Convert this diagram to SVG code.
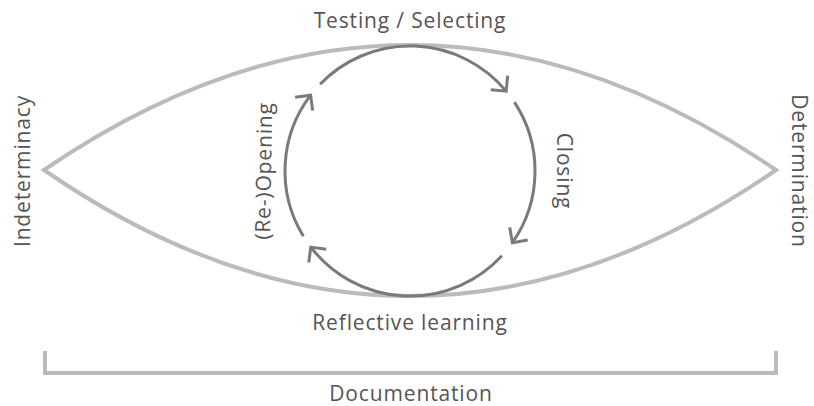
<svg xmlns="http://www.w3.org/2000/svg" width="814" height="406" viewBox="0 0 814 406">
<defs>
<style>
.lbl{font-family:"Open Sans","Noto Sans","Liberation Sans",sans-serif;font-size:21px;letter-spacing:0.85px;fill:#555555;}
.lens{fill:none;stroke:#bbbbbb;stroke-width:4;stroke-linejoin:miter;}
.cyc{fill:none;stroke:#7a7a7a;stroke-width:3;stroke-linecap:butt;}
</style>
<marker id="chev" markerUnits="userSpaceOnUse" markerWidth="30" markerHeight="30" viewBox="-15 -15 30 30" refX="0" refY="0" orient="auto">
<path d="M-11,-11 L0,0 L-11,11" fill="none" stroke="#7a7a7a" stroke-width="3" stroke-linejoin="miter"/>
</marker>
</defs>
<rect width="814" height="406" fill="#ffffff"/>
<g id="lens">
<path class="lens" d="M44,170 Q410,-80 776,170 Q410,422 44,170 Z"/>
</g>
<g id="documentation-bracket">
<path class="lens" d="M45,351 V373 H776 V351"/>
</g>
<g id="connectors">
<path class="cyc" marker-end="url(#chev)" d="M320.1,84.2 A125,125 0 0 1 506.2,91.2"/>
<path class="cyc" marker-end="url(#chev)" d="M514.4,102.2 A125,125 0 0 1 512.4,242.7"/>
<path class="cyc" marker-end="url(#chev)" d="M501.9,255.8 A125,125 0 0 1 310.8,247.1"/>
<path class="cyc" marker-end="url(#chev)" d="M303.4,236.3 A125,125 0 0 1 310.6,95.2"/>
</g>
<g id="testing-selecting"><text class="lbl" x="410" y="28" text-anchor="middle">Testing / Selecting</text></g>
<g id="reflective-learning"><text class="lbl" x="410" y="330" text-anchor="middle">Reflective learning</text></g>
<g id="documentation"><text class="lbl" x="411" y="401" text-anchor="middle">Documentation</text></g>
<g id="indeterminacy"><text class="lbl" transform="translate(30,171) rotate(-90)" text-anchor="middle">Indeterminacy</text></g>
<g id="determination"><text class="lbl" transform="translate(792,171) rotate(90)" text-anchor="middle">Determination</text></g>
<g id="re-opening"><text class="lbl" transform="translate(271,171) rotate(-89)" text-anchor="middle">(Re-)Opening</text></g>
<g id="closing"><text class="lbl" transform="translate(557,171) rotate(90)" text-anchor="middle">Closing</text></g>
</svg>
